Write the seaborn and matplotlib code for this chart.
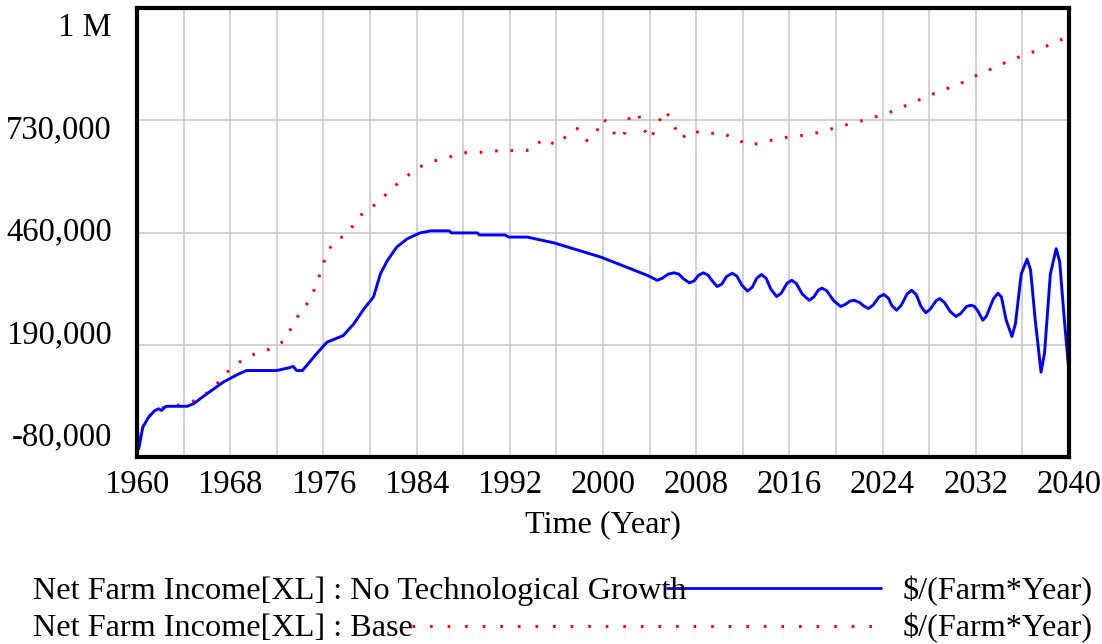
import numpy as np
import matplotlib
matplotlib.use("Agg")
import matplotlib.pyplot as plt
import seaborn as sns
from matplotlib.lines import Line2D

# Net Farm Income[XL] : No Technological Growth
tech_years = [1960.0, 1960.15, 1960.5, 1961.0, 1961.5, 1961.85, 1962.1, 1962.5, 1964.3, 1964.85,
              1966.0, 1967.4, 1968.6, 1969.4, 1972.0, 1973.1, 1973.4, 1973.7, 1974.2, 1975.4,
              1976.3, 1977.7, 1978.6, 1979.5, 1980.3, 1980.9, 1981.5, 1982.3, 1983.2, 1984.3,
              1985.2, 1986.8, 1987.0, 1989.2, 1989.4, 1991.6, 1991.9, 1993.5, 1995.8, 1999.8,
              2003.8, 2004.65, 2005.1, 2005.6, 2006.1, 2006.5, 2006.9, 2007.4, 2007.8, 2008.2,
              2008.6, 2009.0, 2009.4, 2009.8, 2010.2, 2010.6, 2011.1, 2011.5, 2011.9, 2012.4,
              2012.8, 2013.2, 2013.6, 2014.0, 2014.4, 2014.9, 2015.3, 2015.8, 2016.2, 2016.6,
              2017.1, 2017.7, 2018.1, 2018.5, 2018.8, 2019.2, 2019.8, 2020.4, 2020.8, 2021.2,
              2021.55, 2022.0, 2022.4, 2022.8, 2023.2, 2023.7, 2024.1, 2024.5, 2024.8, 2025.2,
              2025.6, 2026.1, 2026.5, 2026.9, 2027.3, 2027.7, 2028.1, 2028.6, 2028.9, 2029.3,
              2029.8, 2030.3, 2030.7, 2031.2, 2031.6, 2031.9, 2032.2, 2032.6, 2032.9, 2033.5,
              2033.9, 2034.2, 2034.6, 2035.1, 2035.4, 2035.9, 2036.4, 2036.7, 2037.1, 2037.6,
              2037.9, 2038.4, 2038.9, 2039.2, 2039.6, 2040.0]
tech_vals = [5000, -60000, -8000, 16000, 31000, 36000, 32000, 42000, 42000, 48000,
             72000, 100000, 118000, 128000, 128000, 135000, 138000, 128000, 128000, 168000,
             196000, 212000, 240000, 277000, 305000, 361000, 393000, 425000, 445000, 459000,
             464000, 464000, 459000, 459000, 454000, 454000, 449000, 449000, 435000, 401000,
             357000, 345000, 350000, 360000, 363000, 360000, 349000, 339000, 343000, 357000,
             363000, 358000, 343000, 330000, 336000, 354000, 362000, 355000, 334000, 319000,
             328000, 350000, 359000, 350000, 324000, 306000, 314000, 338000, 345000, 337000,
             312000, 297000, 305000, 322000, 326000, 320000, 296000, 282000, 287000, 295000,
             297000, 292000, 283000, 277000, 286000, 305000, 311000, 302000, 284000, 273000,
             285000, 312000, 321000, 310000, 282000, 267000, 276000, 296000, 301000, 292000,
             270000, 258000, 265000, 282000, 285000, 282000, 270000, 249000, 258000, 300000,
             314000, 305000, 250000, 210000, 240000, 360000, 396000, 370000, 250000, 124000,
             170000, 360000, 421000, 390000, 250000, 124000]

# Net Farm Income[XL] : Base
base_years = [1960.0, 1960.15, 1960.5, 1961.0, 1961.5, 1962.4, 1963.8, 1965.0, 1966.0, 1966.8,
              1967.5, 1968.3, 1969.3, 1970.4, 1971.6, 1972.6, 1973.3, 1974.0, 1974.9, 1975.4,
              1975.9, 1976.3, 1977.0, 1978.0, 1978.7, 1979.45, 1980.5, 1981.5, 1982.5, 1983.5,
              1984.5, 1985.75, 1987.0, 1988.2, 1989.7, 1991.1, 1992.6, 1993.9, 1994.8, 1996.0,
              1996.9, 1997.8, 1998.6, 1999.4, 2000.0, 2000.6, 2001.2, 2001.9, 2002.3, 2003.0,
              2003.5, 2004.1, 2004.7, 2005.4, 2006.0, 2006.7, 2007.6, 2008.8, 2010.1, 2011.2,
              2012.5, 2013.7, 2015.0, 2016.3, 2017.8, 2019.1, 2020.3, 2021.6, 2022.9, 2024.1,
              2025.3, 2026.4, 2027.6, 2028.8, 2030.0, 2031.2, 2032.2, 2033.3, 2034.4, 2035.6,
              2036.7, 2037.9, 2039.0, 2040.0]
base_vals = [5000, -60000, -8000, 16000, 31000, 40000, 46000, 56000, 74000, 94000,
             118000, 138000, 158000, 171000, 181000, 199000, 233000, 268000, 299000, 337000,
             374000, 412000, 440000, 455000, 483000, 509000, 528000, 555000, 581000, 603000,
             621000, 634000, 643000, 652000, 653000, 657000, 657000, 658000, 685000, 671000,
             693000, 710000, 681000, 700000, 734000, 718000, 686000, 700000, 740000, 747000,
             708000, 685000, 723000, 753000, 721000, 686000, 705000, 697000, 700000, 688000,
             670000, 676000, 686000, 691000, 696000, 705000, 715000, 724000, 734000, 744000,
             756000, 771000, 784000, 799000, 811000, 825000, 840000, 853000, 867000, 881000,
             892000, 906000, 921000, 930000]

y_labels = ["-80,000", "190,000", "460,000", "730,000", "1 M"]
legend_names = ["Net Farm Income[XL] : No Technological Growth", "Net Farm Income[XL] : Base"]
units = "$/(Farm*Year)"

sns.set_theme(style="white")
plt.rcParams['font.family'] = ['Liberation Serif', 'DejaVu Serif']
plt.rcParams['text.color'] = 'black'
plt.rcParams['xtick.color'] = 'black'
plt.rcParams['axes.labelcolor'] = 'black'

W, H = 1102, 644
fig = plt.figure(figsize=(W / 100, H / 100), dpi=100)
ax = fig.add_axes([137 / W, 1 - 457 / H, (1069 - 137) / W, (457 - 8) / H])

dots = (0, (0.85, 4.2))
sns.lineplot(x=base_years, y=base_vals, ax=ax, color="red", linewidth=2.2, estimator=None, sort=False)
ax.lines[-1].set_linestyle(dots)
sns.lineplot(x=tech_years, y=tech_vals, ax=ax, color="blue", linewidth=2.1, estimator=None, sort=False)

ax.set_xlim(1960, 2040)
ax.set_ylim(-80000, 1000000)
xt = np.arange(1960, 2041, 4)
ax.set_xticks(xt)
ax.set_xticklabels([str(t) if (t - 1960) % 8 == 0 else "" for t in xt], fontsize=23.5)
ax.set_yticks(np.arange(-80000, 1000001, 270000))
ax.set_yticklabels([])
ax.tick_params(length=0, pad=9, labelcolor="black")
ax.grid(True, color="#c6c6c6", linewidth=1.1)
ax.set_axisbelow(True)
for sp in ax.spines.values():
    sp.set_color("black")
    sp.set_linewidth(3)

for frac, lab in zip(np.linspace(0.044, 0.956, 5), y_labels):
    ax.text(-0.027, frac, lab, transform=ax.transAxes, ha="right", va="center",
            fontsize=23.5, color="black")

ax.set_xlabel("Time (Year)", fontsize=23.2, labelpad=7, color="black")
ax.set_ylabel("")

# legend drawn by hand like the original
fig.text(33 / W, 1 - 599 / H, legend_names[0], fontsize=23.2, va="baseline", color="black")
fig.text(33 / W, 1 - 636 / H, legend_names[1], fontsize=23.2, va="baseline", color="black")
fig.text(903 / W, 1 - 599 / H, units, fontsize=23.2, va="baseline", color="black")
fig.text(903 / W, 1 - 636 / H, units, fontsize=23.2, va="baseline", color="black")
fig.add_artist(Line2D([667 / W, 881 / W], [1 - 588 / H] * 2, color="blue", linewidth=2))
fig.add_artist(Line2D([412 / W, 881 / W], [1 - 626 / H] * 2, color="red", linewidth=2.2,
                      linestyle=(0, (0.85, 4.9))))

fig.savefig("out.png", dpi=100)
